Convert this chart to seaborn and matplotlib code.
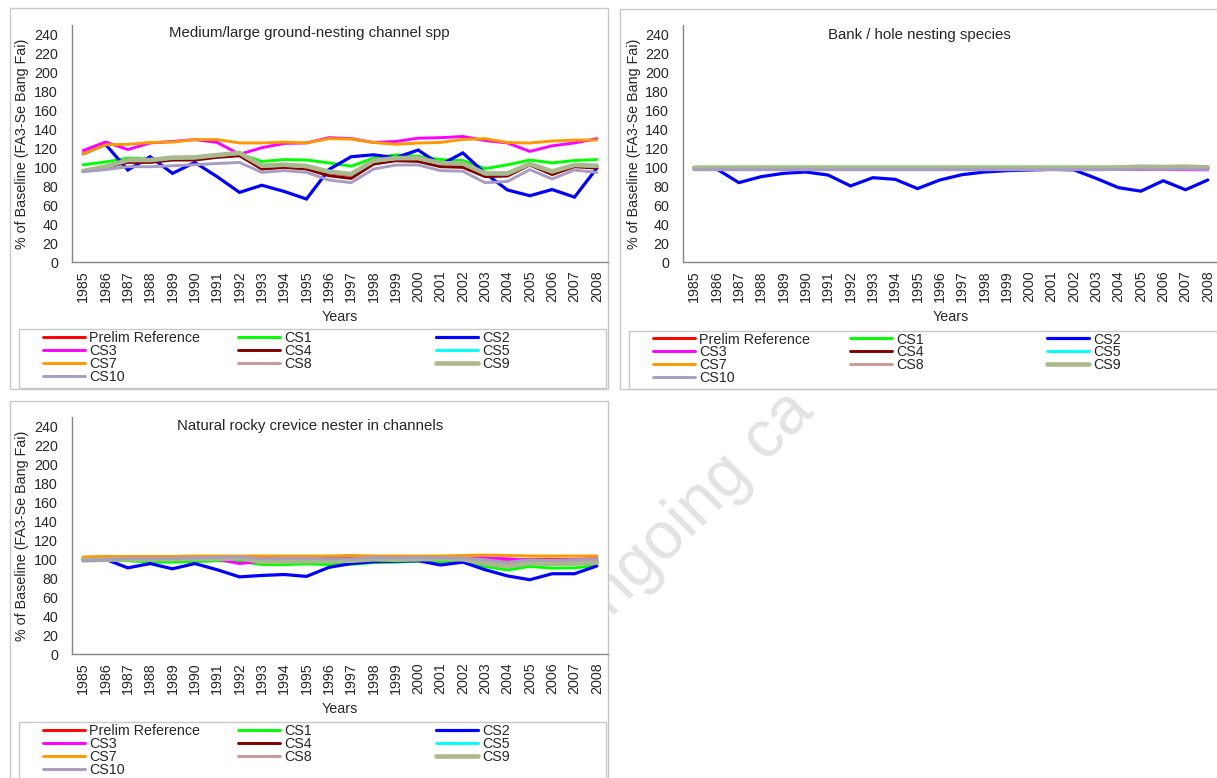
import matplotlib
matplotlib.use("Agg")
import matplotlib.pyplot as plt
from matplotlib.patches import Rectangle
from matplotlib.legend import Legend
from matplotlib.ticker import FixedLocator, NullFormatter
import seaborn as sns

sns.set_style("white")
plt.rcParams["font.family"] = ["Liberation Sans", "DejaVu Sans"]

W, H = 1217, 778

years = list(range(1985, 2009))
series_names = ["Prelim Reference", "CS1", "CS2", "CS3", "CS4", "CS5",
                "CS7", "CS8", "CS9", "CS10"]
series_colors = ["#FF0000", "#00FF00", "#0000FF", "#FF00FF", "#800000",
                 "#00FFFF", "#FF9900", "#CC9999", "#A9B98D", "#A89CC2"]
series_widths = [2.1, 2.1, 2.3, 2.1, 2.1, 2.1, 2.1, 2.1, 3.3, 2.1]

# --- Medium/large ground-nesting channel spp ---
ground_prelim = [96, 100, 106.5, 106.5, 109, 109.5, 112, 114, 100.5, 101.5, 100, 94, 91.5, 105.5, 108.5, 108.5, 103, 103, 92.5, 92.5, 102.5, 94.5, 101.5, 100.5]
ground_cs1 = [102.5, 105.5, 109.5, 108.5, 110, 110.5, 113, 114, 106, 108, 107.5, 104.5, 101, 109.5, 113, 111.5, 108, 107, 98.5, 102.5, 107.5, 104.5, 107, 108]
ground_cs2 = [114, 124, 97, 111, 93.5, 105, 90, 73.5, 81, 74.5, 66.5, 97.5, 111, 113, 110, 118, 102.5, 115, 93.5, 76, 70, 76.5, 68.5, 99]
ground_cs3 = [117.5, 126.5, 118.5, 125.5, 127, 129, 126, 113.5, 120.5, 125, 125.5, 131, 130, 126, 127, 130.5, 131, 132.3, 128, 125.5, 116.6, 122.5, 125.5, 130]
ground_cs4 = [96, 99.8, 105, 105, 107.5, 107.5, 110.3, 112, 98, 99.8, 98, 91, 88.2, 103.2, 106.8, 106, 100.5, 99.8, 90, 90.7, 102.3, 92.2, 100.5, 99]
ground_cs5 = [96, 100, 107, 107, 109.5, 110, 112.5, 114.5, 101, 102, 100.5, 95, 92.5, 106, 109, 109, 104, 103.5, 93, 93, 103, 95, 102, 101]
ground_cs7 = [114, 123.5, 124, 126, 126.4, 129, 129, 125.5, 125.5, 126.4, 125.5, 130, 129.5, 126, 124, 125.4, 126, 129.2, 129.9, 126, 125.4, 127.5, 128.5, 128.5]
ground_cs8 = [96, 100.5, 107, 107, 109.5, 110, 112.5, 114.5, 101, 102, 100.5, 95, 92.5, 106.5, 109, 109, 104, 103.5, 93, 93, 103, 95, 102, 101]
ground_cs9 = [96, 100.5, 107.5, 107.5, 110, 110.3, 112.8, 115, 101.5, 102.6, 101.2, 95.3, 92.8, 106.8, 109.6, 109.6, 104.3, 103.9, 93.5, 93.5, 103.5, 95.6, 102.3, 101.5]
ground_cs10 = [95.3, 97.4, 100.5, 100.5, 101.5, 102.6, 103.9, 105, 94.5, 96.4, 94.5, 86.5, 83.7, 98, 102.3, 102.3, 96.4, 95.7, 83.7, 85, 97.4, 87.6, 97, 94.5]

# --- Bank / hole nesting species ---
bank_prelim = [99, 99, 99, 99, 99, 99, 99, 99, 99, 99, 99, 99, 99, 99, 99, 99, 99, 99, 99, 99, 99.5, 99.5, 99.5, 99]
bank_cs1 = [100.3, 100.3, 100.4, 100.4, 100.4, 100.4, 100.4, 100.4, 100.4, 100.4, 100.4, 100.4, 100.4, 100.4, 100.4, 100.4, 100.4, 100.4, 100.4, 100.4, 100.4, 100.4, 100.4, 100.4]
bank_cs2 = [99, 98.5, 84, 90.3, 93.8, 95.2, 92, 80.5, 89.2, 87.5, 77.7, 86.8, 92.4, 95.2, 96.6, 97.3, 98, 97.5, 88.5, 78.7, 75, 86, 76.5, 86.8]
bank_cs3 = [98, 98, 98, 98, 98, 98, 98, 98, 98, 98, 98, 98, 98, 98, 98, 98, 98, 98, 98, 97.8, 97.8, 97.8, 97.6, 97.5]
bank_cs4 = [99, 99, 99, 99, 99, 99, 99, 99, 99, 99, 99, 99, 99, 99, 99, 99, 99, 99, 99, 99, 99.5, 99.5, 99.5, 99]
bank_cs5 = [99.2, 99.2, 99.2, 99.2, 99.2, 99.2, 99.2, 99.2, 99.2, 99.2, 99.2, 99.2, 99.2, 99.2, 99.2, 99.2, 99.2, 99.2, 99.2, 99.4, 99.8, 99.8, 99.8, 99.4]
bank_cs7 = [99.5, 99.5, 99.5, 99.5, 99.5, 99.5, 99.5, 99.5, 99.5, 99.5, 99.5, 99.5, 99.5, 99.5, 99.5, 99.5, 99.5, 99.5, 99.5, 99.5, 100, 100, 100, 99.5]
bank_cs8 = [99.3, 99.3, 99.3, 99.3, 99.3, 99.3, 99.3, 99.3, 99.3, 99.3, 99.3, 99.3, 99.3, 99.3, 99.3, 99.3, 99.3, 99.3, 99.3, 99.5, 100, 100, 100, 99.6]
bank_cs9 = [99.6, 99.6, 99.6, 99.6, 99.6, 99.6, 99.6, 99.6, 99.6, 99.6, 99.6, 99.6, 99.6, 99.6, 99.6, 99.6, 99.6, 99.6, 99.6, 100, 100.8, 100.5, 100.9, 100]
bank_cs10 = [97.6, 97.6, 97.6, 97.6, 97.6, 97.6, 97.6, 97.6, 97.6, 97.6, 97.6, 97.6, 97.6, 97.6, 97.6, 97.6, 97.6, 97.6, 97.6, 97.8, 98.2, 98, 98.2, 97.8]

# --- Natural rocky crevice nester in channels ---
rocky_prelim = [100.5, 100.5, 101, 101, 101, 101, 101, 101.5, 100.5, 101, 101, 101, 101, 101.5, 101.5, 101.5, 101.5, 101.5, 100, 98, 100, 100, 100, 100.5]
rocky_cs1 = [98.5, 99, 98.5, 97, 97, 97.5, 98.5, 98, 94.5, 94.4, 95.2, 94.4, 94.7, 96.5, 97, 98, 97, 97.5, 92.3, 88.8, 92.5, 90.7, 91, 93.5]
rocky_cs2 = [100, 100, 91, 95.5, 90, 95.5, 89, 81.5, 83, 84, 82, 91.5, 95.5, 97.5, 98, 98.5, 94, 97, 89, 82.5, 78.5, 84.8, 84.8, 93]
rocky_cs3 = [100.5, 100.5, 101, 101, 101, 101, 100, 95.5, 98, 100, 100.5, 100.5, 101, 101, 101, 101.5, 101.5, 101.5, 101.5, 100.5, 99, 99, 99.5, 100.5]
rocky_cs4 = [99.5, 100, 100, 100, 100.5, 100.5, 100.5, 101, 100, 100.5, 100.5, 100.5, 100.5, 101, 101, 101, 101, 100.5, 97, 94, 97.5, 97.5, 97.5, 98.5]
rocky_cs5 = [100, 100, 100.5, 100.5, 100.5, 100.5, 100.5, 101, 99.5, 100, 100, 100, 100, 100.5, 100.5, 100.5, 100.5, 100.5, 97.5, 95, 98, 97.5, 98, 98.5]
rocky_cs7 = [102.5, 103, 103, 103, 103, 103.5, 103.5, 103.5, 103.5, 103.5, 103.5, 103.5, 104, 103.5, 103.5, 103.5, 103.5, 104, 104.5, 104, 103.5, 103.5, 103.5, 103.5]
rocky_cs8 = [100, 100, 100.5, 100.5, 100.5, 100.5, 100.5, 101, 99, 99.5, 99.5, 99.5, 99.5, 100.5, 100.5, 100.5, 100.5, 100.5, 97, 94.5, 97.5, 97, 97.5, 98]
rocky_cs9 = [99, 99.5, 100, 100, 100, 100.5, 100.5, 101, 97.5, 97.5, 98, 98, 98.5, 100, 99.5, 100, 100.5, 100, 95.5, 92.5, 96, 95, 95.5, 96.5]
rocky_cs10 = [98.5, 99.5, 101, 101, 101, 101.5, 102, 102.5, 100.5, 101, 101, 100.5, 100.5, 102, 101.5, 102, 101.5, 101.5, 99.5, 97, 99.5, 99, 99.5, 100]

panels = [
    dict(title="Medium/large ground-nesting channel spp",
         series=[ground_prelim, ground_cs1, ground_cs2, ground_cs3, ground_cs4,
                 ground_cs5, ground_cs7, ground_cs8, ground_cs9, ground_cs10],
         box=(10, 8, 608, 389), axes=(72, 24.5, 608, 262.3), title_xy=(309, 33),
         legend_box=(19, 329, 606, 388), legend_cols=(43, 238, 436), legend_top=331),
    dict(title="Bank / hole nesting species",
         series=[bank_prelim, bank_cs1, bank_cs2, bank_cs3, bank_cs4,
                 bank_cs5, bank_cs7, bank_cs8, bank_cs9, bank_cs10],
         box=(620, 9, 1222, 389), axes=(683, 25.2, 1219, 262.3), title_xy=(919, 34.5),
         legend_box=(629, 331, 1222, 389), legend_cols=(653, 850, 1047), legend_top=332.5),
    dict(title="Natural rocky crevice nester in channels",
         series=[rocky_prelim, rocky_cs1, rocky_cs2, rocky_cs3, rocky_cs4,
                 rocky_cs5, rocky_cs7, rocky_cs8, rocky_cs9, rocky_cs10],
         box=(10, 401, 608, 800), axes=(72, 416.8, 608, 654.3), title_xy=(310, 426),
         legend_box=(19, 722, 606, 800), legend_cols=(43, 238, 436), legend_top=724),
]

FS = 10.3
AXIS_GREY = "#868686"
BOX_GREY = "#C8C8C8"


def fx(px):
    return px / W


def fy(py):
    return 1 - py / H


fig = plt.figure(figsize=(W / 100, H / 100), dpi=100)
fig.patch.set_facecolor("white")

# faint diagonal watermark, partly hidden behind the chart panels
fig.text(fx(585), fy(644), "ongoing ca", rotation=45, fontsize=48,
         color="#E3E3E3", ha="left", va="baseline", rotation_mode="anchor",
         zorder=0.5)

for p in panels:
    x0, y0, x1, y1 = p["box"]
    fig.patches.append(Rectangle((fx(x0), fy(y1)), fx(x1) - fx(x0), fy(y0) - fy(y1),
                                 transform=fig.transFigure, facecolor="white",
                                 edgecolor=BOX_GREY, linewidth=1.0, zorder=1))
    lx0, ly0, lx1, ly1 = p["legend_box"]
    fig.patches.append(Rectangle((fx(lx0), fy(ly1)), fx(lx1) - fx(lx0), fy(ly0) - fy(ly1),
                                 transform=fig.transFigure, facecolor="none",
                                 edgecolor=BOX_GREY, linewidth=1.0, zorder=1.5))

    ax_l, ax_t, ax_r, ax_b = p["axes"]
    ax = fig.add_axes([fx(ax_l), fy(ax_b), fx(ax_r) - fx(ax_l), fy(ax_t) - fy(ax_b)])
    ax.set_zorder(2)
    ax.patch.set_alpha(0)

    for name, vals, col, lw in zip(series_names, p["series"], series_colors, series_widths):
        sns.lineplot(x=years, y=vals, ax=ax, color=col, linewidth=lw,
                     label=name, legend=False, solid_joinstyle="miter")

    ax.set_xlim(years[0] - 0.5, years[-1] + 0.5)
    ax.set_ylim(0, 250)
    ax.set_yticks(range(0, 241, 20))
    ax.xaxis.set_major_locator(FixedLocator([y - 0.5 for y in years] + [years[-1] + 0.5]))
    ax.xaxis.set_major_formatter(NullFormatter())
    ax.xaxis.set_minor_locator(FixedLocator(years))
    ax.set_xticklabels([str(y) for y in years], minor=True, rotation=90)
    ax.tick_params(axis="x", which="major", length=5, width=1, color=AXIS_GREY, direction="out")
    ax.tick_params(axis="x", which="minor", length=0, pad=6, labelsize=FS)
    ax.tick_params(axis="y", length=5, width=1, color=AXIS_GREY, direction="out", pad=5,
                   labelsize=FS)
    for s in ("top", "right"):
        ax.spines[s].set_visible(False)
    for s in ("left", "bottom"):
        ax.spines[s].set_color(AXIS_GREY)
        ax.spines[s].set_linewidth(1.0)

    ax.set_xlabel("Years", fontsize=FS)
    ax.xaxis.label.set_va("center")
    ax.xaxis.set_label_coords(0.5, -55.0 / (ax_b - ax_t))
    ax.set_ylabel("% of Baseline (FA3-Se Bang Fai)", fontsize=FS)
    ax.yaxis.label.set_va("center")
    ax.yaxis.set_label_coords(-49.5 / (ax_r - ax_l), 0.5)

    tx, ty = p["title_xy"]
    fig.text(fx(tx), fy(ty), p["title"], ha="center", va="center", fontsize=10.8, zorder=3)

    # legend in three columns, rows filled left to right
    lines = ax.get_lines()
    cols = [[0, 3, 6, 9], [1, 4, 7], [2, 5, 8]]
    for cx, idx in zip(p["legend_cols"], cols):
        leg = Legend(ax, [lines[i] for i in idx], [series_names[i] for i in idx],
                     loc="upper left",
                     bbox_to_anchor=(fx(cx), fy(p["legend_top"])),
                     bbox_transform=fig.transFigure, frameon=False,
                     borderpad=0, borderaxespad=0, handlelength=2.95,
                     handletextpad=0.25, labelspacing=-0.07, fontsize=FS)
        ax.add_artist(leg)

fig.savefig("out.png", dpi=100, facecolor="white")
